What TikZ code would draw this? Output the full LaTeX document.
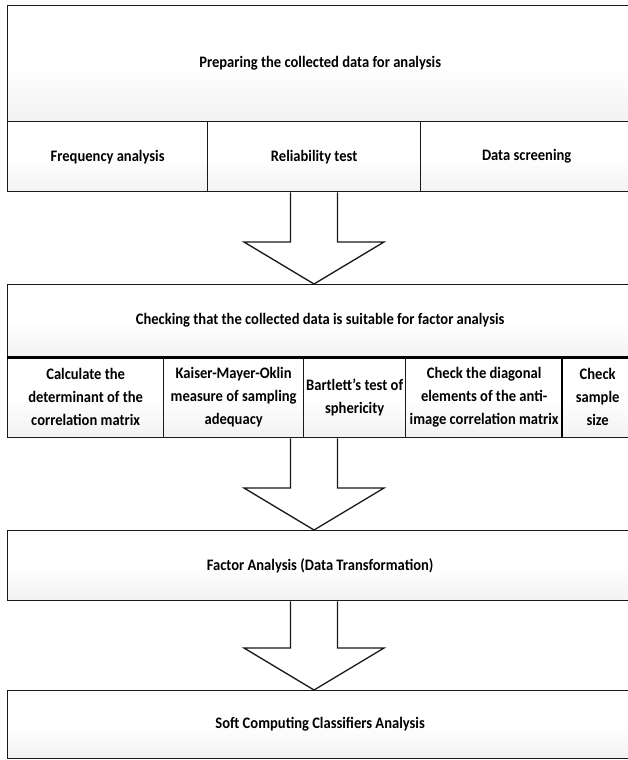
\documentclass[tikz,border=0pt]{standalone}
\usepackage{fontspec}
\newfontfamily\boxfont{Carlito}[FakeStretch=0.91]
\usetikzlibrary{calc}

\tikzset{
  cell/.style={draw=black!90, line width=1.3pt, shading=axis, top color=white,
    bottom color=black!5, middle color=white, anchor=north west, inner sep=0pt,
    align=center, font=\boxfont\bfseries\fontsize{16}{23}\selectfont},
  blockarrow/.style={draw=black!90, line width=1.3pt, fill=white, line join=miter},
  heavyline/.style={draw=black, line width=2.4pt}
}

% hollow arrow pointing down, from #1 to #2
\newcommand{\blockdown}[2]{%
  \filldraw[blockarrow] let \p1=(#1), \p2=(#2) in
    (\x1-23.5pt,\y1) -- (\x1-23.5pt,\y2+42pt) -- (\x1-70pt,\y2+42pt) -- (\x2,\y2)
    -- (\x1+70pt,\y2+42pt) -- (\x1+23.5pt,\y2+42pt) -- (\x1+23.5pt,\y1);
}

\begin{document}
\begin{tikzpicture}[x=1pt, y=-1pt]
    \useasboundingbox (0,0) rectangle (627,760);
    \fill[white] (0,0) rectangle (627,760);

    % Preparing the data
    \node[cell, minimum width=625pt, minimum height=116pt] (prep) at (7,5) {Preparing the collected data for analysis};
    \node[cell, minimum width=200pt, minimum height=70pt] (freq) at (7,121) {Frequency analysis};
    \node[cell, minimum width=213pt, minimum height=70pt] (rel) at (207,121) {Reliability test};
    \node[cell, minimum width=212pt, minimum height=70pt] (screen) at (420,121) {Data screening};

    % Suitability checks
    \node[cell, minimum width=625pt, minimum height=72pt] (check) at (7,284) {Checking that the collected data is suitable for factor analysis};
    \node[cell, minimum width=156pt, minimum height=81pt] (det) at (7,356) {Calculate the\\determinant of the\\correlation matrix};
    \node[cell, minimum width=140pt, minimum height=81pt] (kmo) at (163,356) {Kaiser-Mayer-Oklin\\measure of sampling\\adequacy};
    \node[cell, minimum width=102pt, minimum height=81pt] (bart) at (303,356) {Bartlett’s test of\\sphericity};
    \node[cell, minimum width=157pt, minimum height=81pt] (diag) at (405,356) {Check the diagonal\\elements of the anti-\\image correlation matrix};
    \node[cell, minimum width=70pt, minimum height=81pt] (size) at (562,356) {Check\\sample\\size};
    \draw[heavyline] (check.south west) -- (check.south east);
    \draw[heavyline] (size.north west) -- (size.south west);

    % Later stages
    \node[cell, minimum width=625pt, minimum height=70pt] (fa) at (7,530) {Factor Analysis (Data Transformation)};
    \node[cell, minimum width=625pt, minimum height=68pt] (scc) at (7,690) {Soft Computing Classifiers Analysis};

    % Arrows
    \coordinate (axis) at (314,0);
    \blockdown{axis |- rel.south}{axis |- check.north}
    \blockdown{axis |- bart.south}{axis |- fa.north}
    \blockdown{axis |- fa.south}{axis |- scc.north}
\end{tikzpicture}
\end{document}
